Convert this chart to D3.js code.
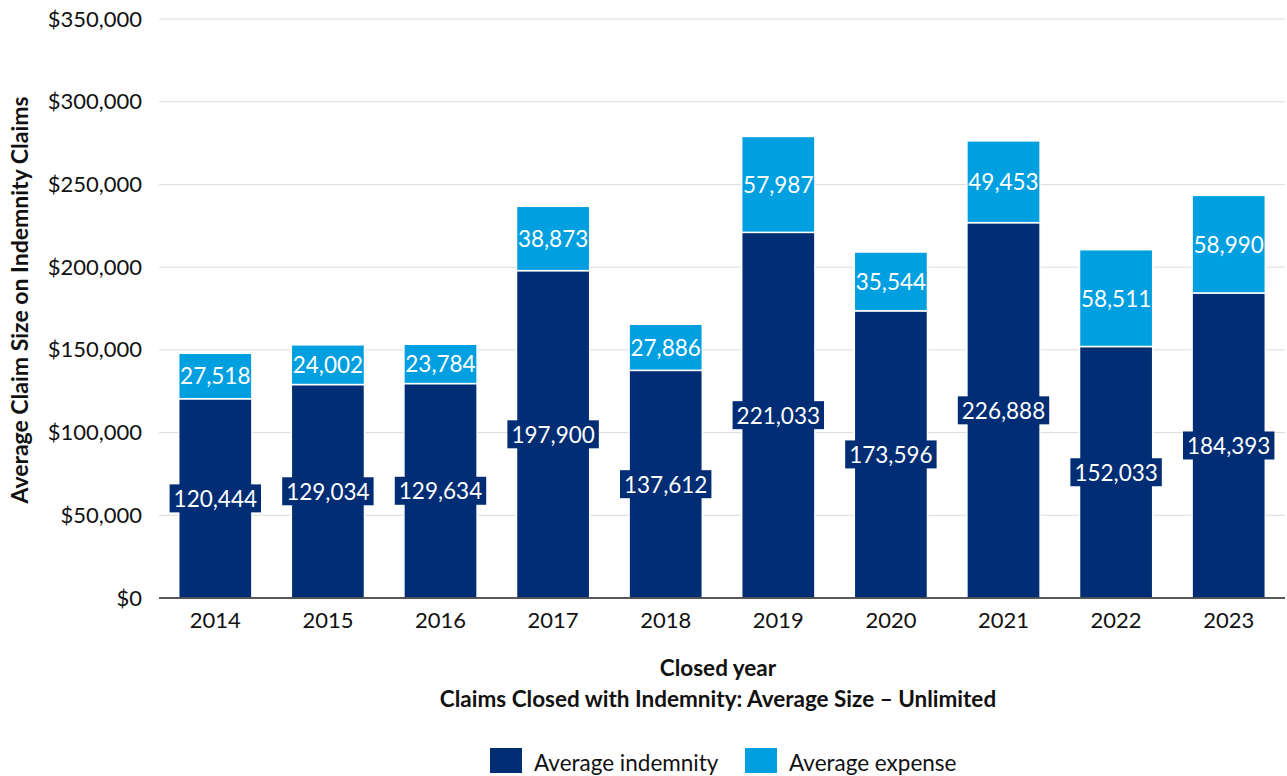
<!DOCTYPE html>
<html>
<head>
<meta charset="utf-8">
<script src="https://cdn.jsdelivr.net/npm/d3@7"></script>
<style>
  html, body { margin: 0; padding: 0; background: #fff; }
  svg { display: block; font-family: Lato, "Open Sans", sans-serif; }
</style>
</head>
<body>
<svg id="chart" width="1287" height="776"></svg>
<script>
// Closed years and the two stacked components of average claim size
const years = ["2014", "2015", "2016", "2017", "2018", "2019", "2020", "2021", "2022", "2023"];
const indemnity = [120444, 129034, 129634, 197900, 137612, 221033, 173596, 226888, 152033, 184393];
const expense = [27518, 24002, 23784, 38873, 27886, 57987, 35544, 49453, 58511, 58990];
const yTicks = [0, 50000, 100000, 150000, 200000, 250000, 300000, 350000];
const seriesNames = ["Average indemnity", "Average expense"];
const seriesColors = ["#002d74", "#009fdf"];

const svg = d3.select("#chart");
const m = { left: 159, right: 1285, top: 19, bottom: 598 };

const x = d3.scaleBand().domain(years).range([m.left, m.right]).paddingInner(0.35).paddingOuter(0.175);
const y = d3.scaleLinear().domain([0, 350000]).range([m.bottom, m.top]);

// Gridlines
svg.append("g").selectAll("line").data(yTicks.filter(d => d > 0)).join("line")
  .attr("x1", m.left).attr("x2", m.right)
  .attr("y1", d => y(d)).attr("y2", d => y(d))
  .attr("stroke", "#dcdcdc").attr("stroke-width", 1);

// Y axis labels
const fmtMoney = d => "$" + d3.format(",")(d);
const yAxis = svg.append("g").attr("transform", `translate(${m.left},0)`)
  .call(d3.axisLeft(y).tickValues(yTicks).tickFormat(fmtMoney).tickSize(0).tickPadding(17));
yAxis.select(".domain").remove();
yAxis.selectAll("text").attr("font-size", 22).attr("fill", "#111").attr("font-family", "Lato, sans-serif");

// Stacked data
const rows = years.map((yr, i) => ({ year: yr, indemnity: indemnity[i], expense: expense[i] }));
const stack = d3.stack().keys(["indemnity", "expense"])(rows);

const layers = svg.append("g").selectAll("g").data(stack).join("g")
  .attr("fill", (d, i) => seriesColors[i]);
layers.selectAll("rect").data(d => d).join("rect")
  .attr("x", d => x(d.data.year))
  .attr("width", x.bandwidth())
  .attr("y", d => y(d[1]))
  .attr("height", d => y(d[0]) - y(d[1]))
  .attr("stroke", "#fff").attr("stroke-width", 1.5);

// Baseline
svg.append("line").attr("x1", m.left).attr("x2", m.right)
  .attr("y1", y(0)).attr("y2", y(0)).attr("stroke", "#222").attr("stroke-width", 1.5);

// Value labels; indemnity labels sit on a box wider than the bar
const fmt = d3.format(",");
stack.forEach((layer, li) => {
  const g = svg.append("g");
  layer.forEach(d => {
    const cx = x(d.data.year) + x.bandwidth() / 2;
    const cy = (y(d[0]) + y(d[1])) / 2;
    const val = d[1] - d[0];
    const lg = g.append("g");
    const rect = lg.append("rect").attr("fill", seriesColors[li]);
    const t = lg.append("text").attr("x", cx).attr("y", cy)
      .attr("text-anchor", "middle").attr("dominant-baseline", "central")
      .attr("font-size", 22.5).attr("fill", "#fff").text(fmt(val));
    if (li === 0) {
      const bb = t.node().getBBox();
      const w = bb.width + 8, h = 28;
      rect.attr("x", cx - w / 2).attr("y", cy - h / 2).attr("width", w).attr("height", h);
    } else {
      rect.remove();
    }
  });
});

// X axis labels
const xAxis = svg.append("g").attr("transform", `translate(0,${y(0)})`)
  .call(d3.axisBottom(x).tickSize(0).tickPadding(14));
xAxis.select(".domain").remove();
xAxis.selectAll("text").attr("font-size", 22).attr("fill", "#111").attr("font-family", "Lato, sans-serif");

// Axis titles
svg.append("text").attr("x", 718).attr("y", 676).attr("text-anchor", "middle")
  .attr("font-size", 22.5).attr("font-weight", "bold").attr("fill", "#111").text("Closed year");
svg.append("text").attr("x", 718).attr("y", 707).attr("text-anchor", "middle")
  .attr("font-size", 22.5).attr("font-weight", "bold").attr("fill", "#111")
  .text("Claims Closed with Indemnity: Average Size \u2013 Unlimited");
svg.append("text").attr("transform", "translate(28,300) rotate(-90)").attr("text-anchor", "middle")
  .attr("font-size", 23).attr("font-weight", "bold").attr("fill", "#111")
  .text("Average Claim Size on Indemnity Claims");

// Legend
const legendX = [490, 745];
const lg = svg.append("g");
seriesNames.forEach((name, i) => {
  lg.append("rect").attr("x", legendX[i]).attr("y", 748).attr("width", 32).attr("height", 25)
    .attr("fill", seriesColors[i]);
  lg.append("text").attr("x", legendX[i] + 44).attr("y", 762).attr("dominant-baseline", "central")
    .attr("font-size", 22.5).attr("fill", "#111").text(name);
});
</script>
</body>
</html>
